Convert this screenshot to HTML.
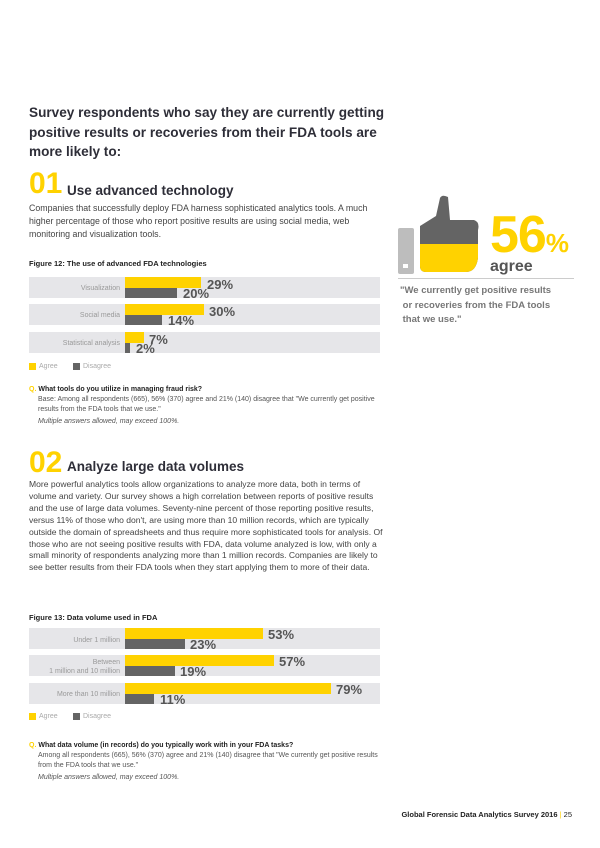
<!DOCTYPE html>
<html><head><meta charset="utf-8"><style>
*{margin:0;padding:0;box-sizing:border-box}
body{width:600px;height:848px;background:#fff;position:relative;font-family:"Liberation Sans",sans-serif;color:#333;overflow:hidden}
.a{position:absolute;white-space:nowrap}
.row{position:absolute;left:29px;width:351px;height:21px;background:#e6e6e9}
.y{position:absolute;left:125px;height:11px;background:#ffd200}
.g{position:absolute;left:125px;height:10px;background:#646464}
.lbl{position:absolute;right:480px;font-size:7px;color:#999;text-align:right;line-height:9px;white-space:nowrap}
.v{position:absolute;font-size:13px;font-weight:bold;color:#555;line-height:13px}
.body{color:#444}
.sm{font-size:7px;color:#555;line-height:10px}
</style></head><body>
<div class="a" style="left:29px;top:103px;font-size:13.6px;font-weight:bold;line-height:19.5px;color:#2e2e38">Survey respondents who say they are currently getting<br>positive results or recoveries from their FDA tools are<br>more likely to:</div>
<div class="a" style="left:29px;top:168px;font-size:30px;font-weight:bold;color:#ffd200;line-height:32px">01</div>
<div class="a" style="left:67px;top:183px;font-size:13.5px;font-weight:bold;color:#2e2e38">Use advanced technology</div>
<div class="a body" style="left:29px;top:202px;font-size:8.8px;line-height:13px">Companies that successfully deploy FDA harness sophisticated analytics tools. A much<br>higher percentage of those who report positive results are using social media, web<br>monitoring and visualization tools.</div>
<div class="a" style="left:29px;top:259px;font-size:7.5px;font-weight:bold;color:#222">Figure 12: The use of advanced FDA technologies</div>

<div class="row" style="top:277px"></div><div class="row" style="top:304px"></div><div class="row" style="top:332px"></div>
<div class="lbl" style="top:284px">Visualization</div>
<div class="lbl" style="top:311px">Social media</div>
<div class="lbl" style="top:339px">Statistical analysis</div>
<div class="y" style="top:277px;width:76px"></div><div class="g" style="top:288px;width:52px"></div>
<div class="y" style="top:304px;width:79px"></div><div class="g" style="top:315px;width:37px"></div>
<div class="y" style="top:332px;width:19px"></div><div class="g" style="top:343px;width:5px"></div>
<div class="v" style="left:207px;top:278px">29%</div><div class="v" style="left:183px;top:287px">20%</div>
<div class="v" style="left:209px;top:305px">30%</div><div class="v" style="left:168px;top:314px">14%</div>
<div class="v" style="left:149px;top:333px">7%</div><div class="v" style="left:136px;top:342px">2%</div>
<div class="a" style="left:29px;top:363px;width:7px;height:7px;background:#ffd200"></div>
<div class="a sm" style="left:39px;top:362px;color:#aaa">Agree</div>
<div class="a" style="left:73px;top:363px;width:7px;height:7px;background:#646464"></div>
<div class="a sm" style="left:83px;top:362px;color:#aaa">Disagree</div>
<div class="a sm" style="left:29px;top:385px"><b style="color:#ffd200">Q.</b> <b style="color:#222">What tools do you utilize in managing fraud risk?</b></div>
<div class="a sm" style="left:38px;top:395px">Base: Among all respondents (665), 56% (370) agree and 21% (140) disagree that "We currently get positive<br>results from the FDA tools that we use."</div>
<div class="a sm" style="left:38px;top:417px;font-style:italic">Multiple answers allowed, may exceed 100%.</div>

<svg class="a" style="left:396px;top:194px" width="90" height="82">
<rect x="2" y="34" width="16" height="46" rx="2" fill="#bdbdbd"/>
<path d="M24 32 L40 22 L44 4 Q46 0 52 3 L54 26 L78 26 Q84 28 82 36 L82 64 Q80 78 70 78 L30 78 Q24 78 24 72 Z" fill="#646464"/>
<path d="M24 50 L82 50 L82 64 Q80 78 70 78 L30 78 Q24 78 24 72 Z" fill="#ffd200"/>
<rect x="7" y="70" width="5" height="4" fill="#fff"/>
</svg>
<div class="a" style="left:490px;top:209px;font-size:52px;font-weight:bold;color:#ffd200;line-height:52px;letter-spacing:-1px">56<span style="font-size:26px">%</span></div>
<div class="a" style="left:490px;top:258px;font-size:16px;font-weight:bold;color:#555">agree</div>
<div class="a" style="left:398px;top:278px;width:176px;height:1px;background:#ccc"></div>
<div class="a" style="left:400px;top:284px;font-size:9.5px;font-weight:bold;color:#777;line-height:14.5px">"We currently get positive results<br>&nbsp;or recoveries from the FDA tools<br>&nbsp;that we use."</div>

<div class="a" style="left:29px;top:447px;font-size:30px;font-weight:bold;color:#ffd200;line-height:32px">02</div>
<div class="a" style="left:67px;top:459px;font-size:13.5px;font-weight:bold;color:#2e2e38">Analyze large data volumes</div>
<div class="a body" style="left:29px;top:479px;font-size:8.55px;line-height:11.9px">More powerful analytics tools allow organizations to analyze more data, both in terms of<br>volume and variety. Our survey shows a high correlation between reports of positive results<br>and the use of large data volumes. Seventy-nine percent of those reporting positive results,<br>versus 11% of those who don't, are using more than 10 million records, which are typically<br>outside the domain of spreadsheets and thus require more sophisticated tools for analysis. Of<br>those who are not seeing positive results with FDA, data volume analyzed is low, with only a<br>small minority of respondents analyzing more than 1 million records. Companies are likely to<br>see better results from their FDA tools when they start applying them to more of their data.</div>

<div class="a" style="left:29px;top:613px;font-size:7.5px;font-weight:bold;color:#222">Figure 13: Data volume used in FDA</div>
<div class="row" style="top:628px"></div><div class="row" style="top:655px"></div><div class="row" style="top:683px"></div>
<div class="lbl" style="top:636px">Under 1 million</div>
<div class="lbl" style="top:658px">Between<br>1 million and 10 million</div>
<div class="lbl" style="top:690px">More than 10 million</div>
<div class="y" style="top:628px;width:138px"></div><div class="g" style="top:639px;width:60px"></div>
<div class="y" style="top:655px;width:149px"></div><div class="g" style="top:666px;width:50px"></div>
<div class="y" style="top:683px;width:206px"></div><div class="g" style="top:694px;width:29px"></div>
<div class="v" style="left:268px;top:628px">53%</div><div class="v" style="left:190px;top:638px">23%</div>
<div class="v" style="left:279px;top:655px">57%</div><div class="v" style="left:180px;top:665px">19%</div>
<div class="v" style="left:336px;top:683px">79%</div><div class="v" style="left:160px;top:693px">11%</div>
<div class="a" style="left:29px;top:713px;width:7px;height:7px;background:#ffd200"></div>
<div class="a sm" style="left:39px;top:712px;color:#aaa">Agree</div>
<div class="a" style="left:73px;top:713px;width:7px;height:7px;background:#646464"></div>
<div class="a sm" style="left:83px;top:712px;color:#aaa">Disagree</div>
<div class="a sm" style="left:29px;top:741px"><b style="color:#ffd200">Q.</b> <b style="color:#222">What data volume (in records) do you typically work with in your FDA tasks?</b></div>
<div class="a sm" style="left:38px;top:751px">Among all respondents (665), 56% (370) agree and 21% (140) disagree that "We currently get positive results<br>from the FDA tools that we use."</div>
<div class="a sm" style="left:38px;top:773px;font-style:italic">Multiple answers allowed, may exceed 100%.</div>

<div class="a" style="right:28px;top:810px;font-size:7.5px;color:#222"><b>Global Forensic Data Analytics Survey 2016</b> <span style="color:#ffd200">|</span> 25</div>
</body></html>
